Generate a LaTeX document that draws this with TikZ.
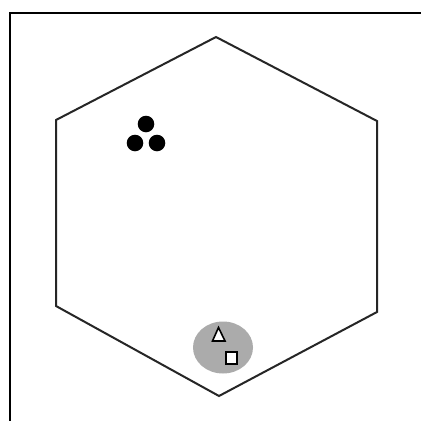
\documentclass[tikz,border=0pt]{standalone}
\begin{document}
\begin{tikzpicture}[x=1pt,y=-1pt,
  hexline/.style={draw=black!85,line width=2pt,line join=miter},
  framelin/.style={draw=black,line width=2.6pt},
  dot/.style={fill=black},
  zone/.style={fill=black!33},
  marker/.style={draw=black,fill=white,line width=1.6pt,line join=miter}]
\useasboundingbox (0,0) rectangle (421,421);
\clip (0,0) rectangle (421,421);
\fill[white] (0,0) rectangle (421,421);
% frame (only top and left visible)
\draw[framelin] (10,13) rectangle (440,440);
% hexagon
\coordinate (t) at (216,37);
\coordinate (ur) at (377,121);
\coordinate (lr) at (377,312);
\coordinate (b) at (219,396);
\coordinate (ll) at (56,306);
\coordinate (ul) at (56,120);
\draw[hexline] (t) -- (ur) -- (lr) -- (b) -- (ll) -- (ul) -- cycle;
% dots
\fill[dot] (146,124) circle (8.3);
\fill[dot] (135,143) circle (8.3);
\fill[dot] (157,143) circle (8.3);
% grey zone
\fill[zone] (223,347.5) ellipse [x radius=30, y radius=26];
% triangle
\draw[marker] (218.5,327.5) -- (225,341) -- (212.5,341) -- cycle;
% square
\draw[marker] (226,352) rectangle (237,364);
\end{tikzpicture}
\end{document}
